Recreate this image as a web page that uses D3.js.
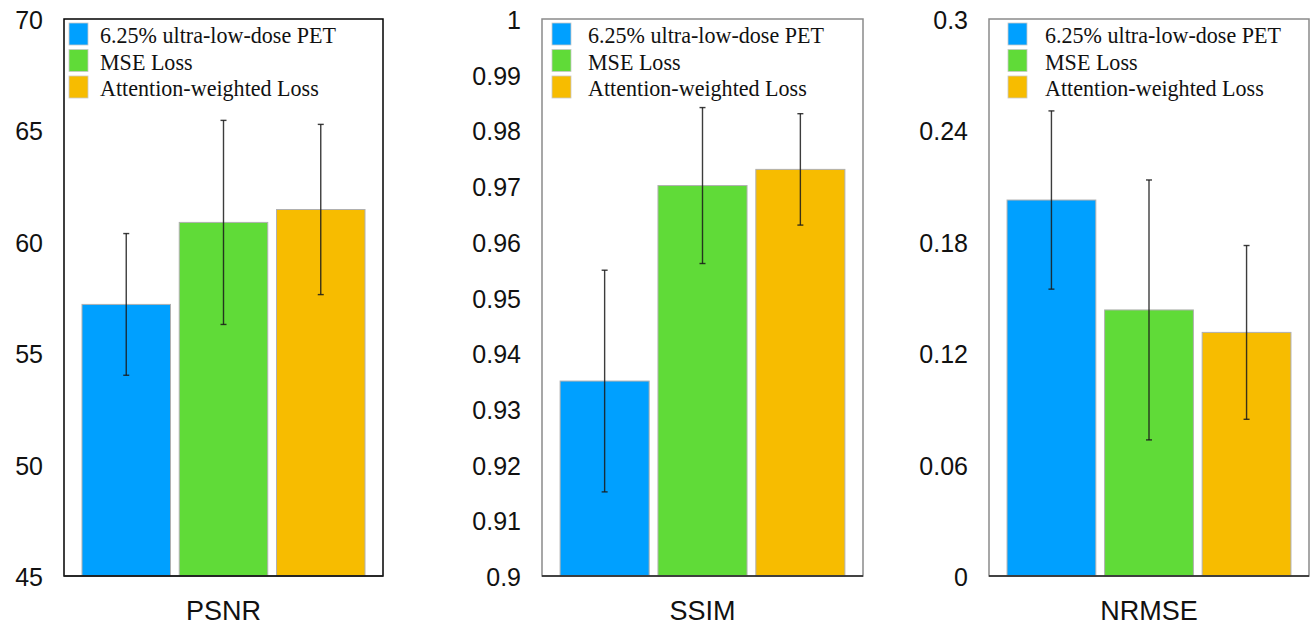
<!DOCTYPE html>
<html>
<head>
<meta charset="utf-8">
<script src="https://cdn.jsdelivr.net/npm/d3@7"></script>
<style>
  body { margin: 0; background: #fff; }
  svg { display: block; }
</style>
</head>
<body>
<script>
// chart data
var methods = ["6.25% ultra-low-dose PET", "MSE Loss", "Attention-weighted Loss"];
var colors = ["#00a0ff", "#60db38", "#f7bc00"];

var metrics = ["PSNR", "SSIM", "NRMSE"];

var psnrMean = [57.19, 60.87, 61.45];
var psnrErr  = [3.18, 4.58, 3.82];
var psnrTicks = [45, 50, 55, 60, 65, 70];

var ssimMean = [0.935, 0.9701, 0.9730];
var ssimErr  = [0.0199, 0.0140, 0.0100];
var ssimTicks = [0.9, 0.91, 0.92, 0.93, 0.94, 0.95, 0.96, 0.97, 0.98, 0.99, 1];

var nrmseMean = [0.2025, 0.1433, 0.1312];
var nrmseErr  = [0.048, 0.070, 0.0468];
var nrmseTicks = [0, 0.06, 0.12, 0.18, 0.24, 0.3];

// layout of the three panels
var panels = [
  {name: metrics[0], mean: psnrMean, err: psnrErr, ticks: psnrTicks, left: 64, width: 319, frame: "#000", legX: 5, textX: 36},
  {name: metrics[1], mean: ssimMean, err: ssimErr, ticks: ssimTicks, left: 542, width: 321, frame: "#8a8a8a", legX: 10, textX: 46},
  {name: metrics[2], mean: nrmseMean, err: nrmseErr, ticks: nrmseTicks, left: 989, width: 320, frame: "#8a8a8a", legX: 19, textX: 56}
];

var plotTop = 19, plotBottom = 576;

var svg = d3.select("body").append("svg")
    .attr("width", 1310)
    .attr("height", 627);

panels.forEach(function(p) {
    var g = svg.append("g")
        .attr("transform", "translate(" + p.left + ",0)");

    var x = d3.scaleBand()
        .domain(methods)
        .range([0, p.width])
        .paddingInner(0.09)
        .paddingOuter(0.185);

    var y = d3.scaleLinear()
        .domain(d3.extent(p.ticks))
        .range([plotBottom, plotTop]);

    // bars
    g.selectAll(".bar")
        .data(methods)
        .enter().append("rect")
        .attr("class", "bar")
        .attr("x", function(d) { return x(d); })
        .attr("width", x.bandwidth())
        .attr("y", function(d, i) { return y(p.mean[i]); })
        .attr("height", function(d, i) { return plotBottom - y(p.mean[i]); })
        .attr("fill", function(d, i) { return colors[i]; })
        .attr("stroke", "#b0b0b0")
        .attr("stroke-width", 1);

    // error bars
    var eb = g.selectAll(".err")
        .data(methods)
        .enter().append("g")
        .attr("class", "err")
        .attr("stroke", "#1a1a1a")
        .attr("stroke-opacity", 0.85)
        .attr("stroke-width", 1.4);

    eb.append("line")
        .attr("x1", function(d) { return x(d) + x.bandwidth() / 2; })
        .attr("x2", function(d) { return x(d) + x.bandwidth() / 2; })
        .attr("y1", function(d, i) { return y(p.mean[i] + p.err[i]); })
        .attr("y2", function(d, i) { return y(p.mean[i] - p.err[i]); });

    [1, -1].forEach(function(s) {
        eb.append("line")
            .attr("x1", function(d) { return x(d) + x.bandwidth() / 2 - 3; })
            .attr("x2", function(d) { return x(d) + x.bandwidth() / 2 + 3; })
            .attr("y1", function(d, i) { return y(p.mean[i] + s * p.err[i]); })
            .attr("y2", function(d, i) { return y(p.mean[i] + s * p.err[i]); });
    });

    // frame
    g.append("rect")
        .attr("x", 0)
        .attr("y", plotTop)
        .attr("width", p.width)
        .attr("height", plotBottom - plotTop)
        .attr("fill", "none")
        .attr("stroke", p.frame)
        .attr("stroke-width", 1.5);

    g.append("line")
        .attr("x1", 0).attr("x2", p.width)
        .attr("y1", plotBottom).attr("y2", plotBottom)
        .attr("stroke", "#222")
        .attr("stroke-width", 1.5);

    // y axis
    var ax = g.append("g")
        .call(d3.axisLeft(y)
            .tickValues(p.ticks)
            .tickSize(0)
            .tickPadding(21)
            .tickFormat(d3.format("")));
    ax.select(".domain").remove();
    ax.selectAll("text")
        .attr("dy", "0.38em")
        .style("font-family", "'Liberation Sans', Arial, sans-serif")
        .style("font-size", "25px")
        .attr("fill", "#111");

    // metric label
    g.append("text")
        .attr("x", p.width / 2)
        .attr("y", 620)
        .attr("text-anchor", "middle")
        .style("font-family", "'Liberation Sans', Arial, sans-serif")
        .style("font-size", "27px")
        .attr("fill", "#111")
        .text(p.name);

    // legend
    var leg = g.selectAll(".leg")
        .data(methods)
        .enter().append("g")
        .attr("class", "leg")
        .attr("transform", function(d, i) { return "translate(0," + (i * 26.5) + ")"; });

    leg.append("rect")
        .attr("x", p.legX)
        .attr("y", 23)
        .attr("width", 19)
        .attr("height", 22)
        .attr("fill", function(d, i) { return colors[i]; })
        .attr("stroke", "#c8c8c8")
        .attr("stroke-width", 0.8);

    // serif text in the original is a bit condensed
    leg.append("text")
        .attr("transform", "translate(" + p.textX + ",43) scale(0.92,1)")
        .style("font-family", "'Liberation Serif', 'Times New Roman', serif")
        .style("font-size", "24px")
        .attr("fill", "#111")
        .text(function(d) { return d; });
});
</script>
</body>
</html>
